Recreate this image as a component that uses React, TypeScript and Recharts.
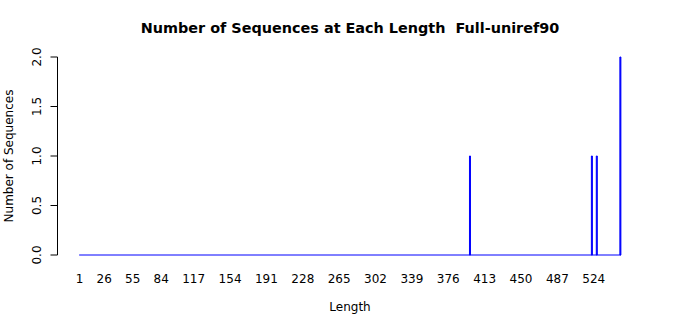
import React from 'react';
import { BarChart, Bar, XAxis, YAxis, ReferenceLine } from 'recharts';

// Observed sequence lengths and how many sequences have each length
const seqLengths = [398, 522, 527, 551];
const seqCounts = [1, 1, 1, 2];
// Full range of lengths shown on the axis
const lengthRange = [1, 551];
// Tick labels shown under the bars
const xTickLabels = [1, 26, 55, 84, 117, 154, 191, 228, 265, 302, 339, 376, 413, 450, 487, 524];
const yTicks = [0, 0.5, 1, 1.5, 2];

const titleText = 'Number of Sequences at Each Length  Full-uniref90';
const xTitle = 'Length';
const yTitle = 'Number of Sequences';

const data = seqLengths.map((len, i) => ({ len, count: seqCounts[i] }));

const FONT = '"DejaVu Sans", sans-serif';
const nBars = lengthRange[1] - lengthRange[0] + 1;
const pad = nBars * 0.04;
const xDomain = [lengthRange[0] - 0.5 - pad, lengthRange[1] + 0.5 + pad];

const W = 700;
const H = 315;

const XTick = (props: any) => {
  const { x, y, payload } = props;
  return (
    <text x={x} y={y + 28.3} textAnchor="middle" fontFamily={FONT} fontSize={12} fill="#000">
      {payload.value}
    </text>
  );
};

const YTick = (props: any) => {
  const { x, y, payload } = props;
  const tx = x - 9.15;
  return (
    <text
      x={tx}
      y={y}
      transform={`rotate(-90, ${tx}, ${y})`}
      textAnchor="middle"
      fontFamily={FONT}
      fontSize={12}
      fill="#000"
    >
      {Number(payload.value).toFixed(1)}
    </text>
  );
};

export default function App() {
  return (
    <div style={{ position: 'absolute', left: 0, top: 0, width: W, height: H, background: '#fff' }}>
      <BarChart
        width={W}
        height={H}
        data={data}
        margin={{ top: 57, right: 57.5, bottom: 0, left: 0.5 }}
      >
        <XAxis
          dataKey="len"
          type="number"
          domain={xDomain}
          ticks={xTickLabels}
          interval={0}
          axisLine={false}
          tickLine={false}
          tickSize={0}
          tickMargin={0}
          height={60}
          tick={<XTick />}
          allowDataOverflow
        />
        <YAxis
          type="number"
          domain={[0, 2]}
          ticks={yTicks}
          width={57}
          tickSize={7}
          tickMargin={0}
          axisLine={{ stroke: '#000' }}
          tickLine={{ stroke: '#000' }}
          tick={<YTick />}
          interval={0}
        />
        <ReferenceLine
          segment={[
            { x: lengthRange[0] - 0.5, y: 0 },
            { x: lengthRange[1] + 0.5, y: 0 },
          ]}
          stroke="blue"
          strokeWidth={1}
          ifOverflow="visible"
        />
        <Bar
          dataKey="count"
          fill="blue"
          stroke="blue"
          strokeWidth={1}
          barSize={1}
          isAnimationActive={false}
        />
      </BarChart>
      <svg
        width={W}
        height={H}
        style={{ position: 'absolute', left: 0, top: 0, pointerEvents: 'none' }}
      >
        <text
          x={350}
          y={33}
          textAnchor="middle"
          fontFamily={FONT}
          fontSize={14.4}
          fontWeight="bold"
          fill="#000"
          style={{ whiteSpace: 'pre' }}
          xmlSpace="preserve"
        >
          {titleText}
        </text>
        <text x={350} y={311} textAnchor="middle" fontFamily={FONT} fontSize={12} fill="#000">
          {xTitle}
        </text>
        <text
          x={13.4}
          y={156}
          transform="rotate(-90, 13.4, 156)"
          textAnchor="middle"
          fontFamily={FONT}
          fontSize={12}
          fill="#000"
        >
          {yTitle}
        </text>
      </svg>
    </div>
  );
}
